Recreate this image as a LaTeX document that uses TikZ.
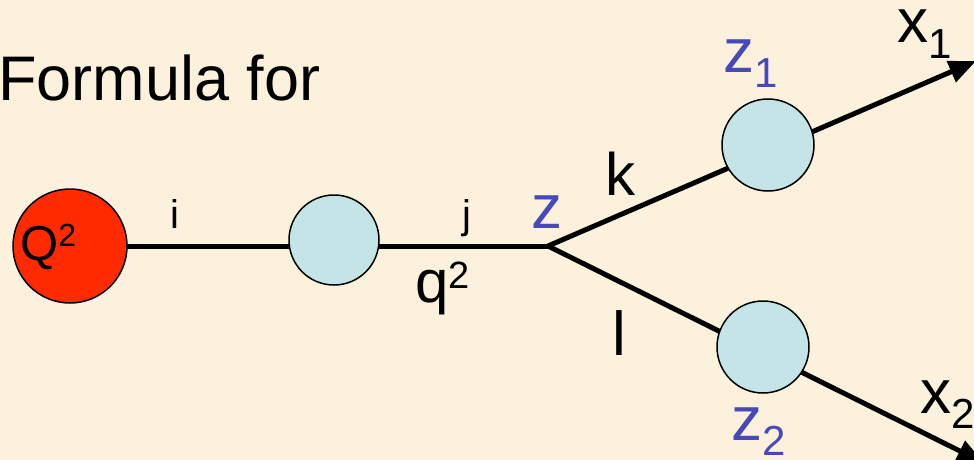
\documentclass[tikz,border=0pt]{standalone}
\usepackage{fontspec}
\setmainfont{Liberation Sans}
\usetikzlibrary{arrows.meta,backgrounds}
\definecolor{bgc}{RGB}{251,241,220}
\definecolor{ball}{RGB}{196,228,232}
\definecolor{qred}{RGB}{255,42,0}
\definecolor{zblue}{RGB}{72,72,184}
\newcommand\fsz[1]{\fontsize{#1}{#1}\selectfont}
\begin{document}
\begin{tikzpicture}[x=1pt,y=-1pt,
  blob/.style={circle,draw=black,line width=1.5pt,fill=ball,inner sep=0pt},
  lbl/.style={anchor=base west,inner sep=0pt},
  leg/.style={line width=5pt},
  tip/.style={-{Triangle[length=27pt,width=22pt]}}]
\useasboundingbox (0,0) rectangle (974,460);
\node[blob,fill=qred,minimum size=114pt] (Q) at (70,246) {};
\node[blob,minimum size=90pt] (b1) at (334,240) {};
\node[blob,minimum size=92pt] (c1) at (768,145) {};
\node[blob,minimum size=92pt] (c2) at (763,347) {};
\coordinate (v) at (548,246);
\coordinate (e1) at (976,61);
\coordinate (e2) at (984,463);
\begin{scope}[on background layer]
  \fill[bgc] (0,0) rectangle (974,460);
  \draw[leg] (Q.center) -- (v);
  \draw[leg,tip] (v) -- (e1);
  \draw[leg,tip] (v) -- (e2);
\end{scope}
\node[lbl] (title) at (-2,100) {\fsz{63}Formula for};
\node[lbl] (qlab) at (20,260) {\fsz{49}Q\raisebox{14pt}{\fsz{32}2}};
\node[lbl] (ilab) at (170,228) {\fsz{40}i};
\node[lbl] (jlab) at (462,228) {\fsz{40}j};
\node[lbl] (q2lab) at (415,302) {\fsz{60}q\raisebox{14pt}{\fsz{38}2}};
\node[lbl,text=zblue] (zlab) at (531,228) {\fsz{62}z};
\node[lbl] (klab) at (605,195) {\fsz{60}k};
\node[lbl] (llab) at (612,355) {\fsz{62}l};
\node[lbl,text=zblue] (z1lab) at (723,72) {\fsz{62}z\raisebox{-0.25em}{\fsz{42}1}};
\node[lbl,text=zblue] (z2lab) at (731,440) {\fsz{62}z\raisebox{-0.25em}{\fsz{42}2}};
\node[lbl] (x1lab) at (897,43) {\fsz{62}x\raisebox{-0.25em}{\fsz{42}1}};
\node[lbl] (x2lab) at (920,413) {\fsz{62}x\raisebox{-0.25em}{\fsz{42}2}};
\end{tikzpicture}
\end{document}
